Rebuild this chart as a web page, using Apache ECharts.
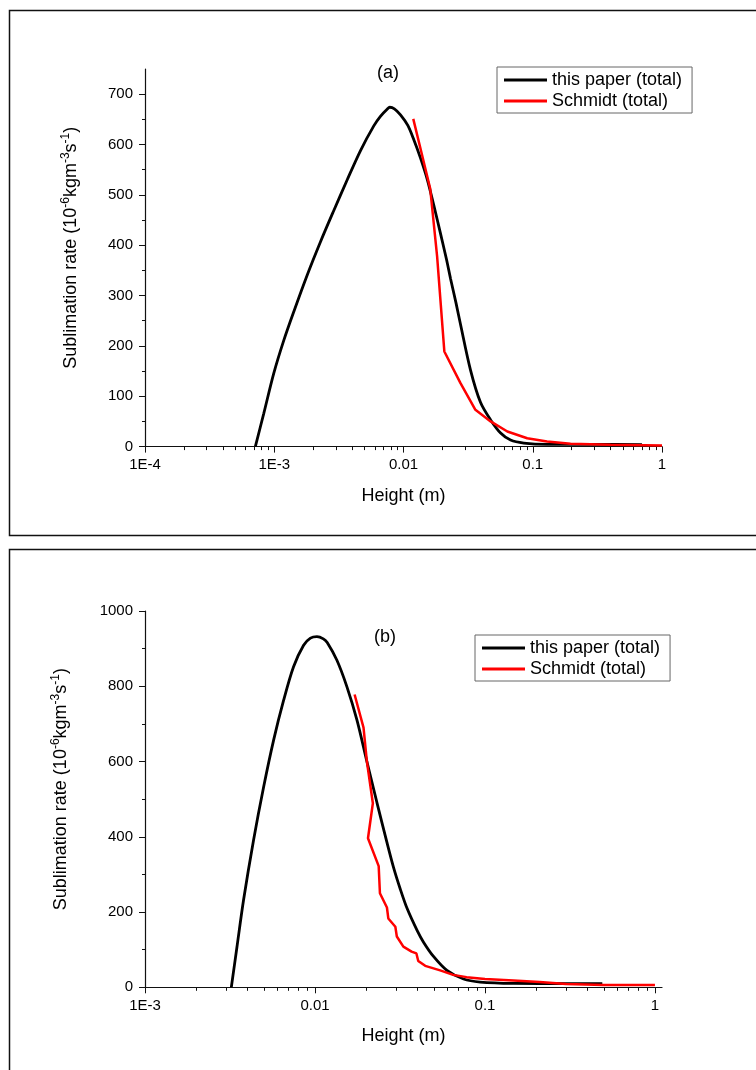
<!DOCTYPE html>
<html>
<head>
<meta charset="utf-8">
<script src="https://cdn.jsdelivr.net/npm/echarts@6.0.0/dist/echarts.min.js"></script>
<style>
html, body { margin: 0; padding: 0; background: #fff; }
#main { width: 756px; height: 1070px; }
</style>
</head>
<body>
<div id="main"></div>
<script>
// panel (a)
var heightBlackA = [0.000714, 0.00083, 0.00099, 0.001185, 0.001416, 0.0018, 0.00228, 0.00289, 0.00367, 0.00465, 0.00589, 0.00663, 0.00747, 0.00783, 0.0085, 0.00948, 0.0108, 0.012, 0.0135, 0.0153, 0.0172, 0.0193, 0.0215, 0.0231, 0.0255, 0.0276, 0.033, 0.0394, 0.0472, 0.0564, 0.0673, 0.0853, 0.129, 0.3, 0.7];
var rateBlackA = [0, 66, 145, 211, 268, 341, 407, 469, 530, 588, 637, 656, 670, 674, 671, 659, 638, 610, 574, 530, 478, 424, 372, 334, 285, 243, 152, 88, 53, 27, 13, 7, 4.5, 4.5, 4];
var heightRedA = [0.0119, 0.0161, 0.0182, 0.0207, 0.0276, 0.036, 0.0472, 0.0636, 0.0906, 0.129, 0.196, 0.4, 1];
var rateRedA = [651, 512, 378, 189, 126, 73, 50, 30, 16.5, 10, 5.5, 3.5, 2];

// panel (b)
var heightBlackB = [0.00322, 0.00347, 0.0038, 0.00435, 0.00499, 0.00571, 0.00654, 0.00748, 0.00857, 0.0094, 0.01027, 0.0112, 0.0118, 0.01346, 0.0154, 0.01766, 0.0202, 0.0232, 0.0265, 0.029, 0.0317, 0.0348, 0.04, 0.0435, 0.0498, 0.0597, 0.0748, 0.0937, 0.147, 0.3, 0.49];
var rateBlackB = [0, 105, 232, 391, 533, 657, 763, 852, 909, 928, 932, 926, 916, 869, 799, 710, 600, 489, 385, 318, 262, 210, 150, 120, 82, 45, 22, 14, 10.5, 10, 10];
var heightRedB = [0.0171, 0.0193, 0.0202, 0.0219, 0.0205, 0.0237, 0.0241, 0.0265, 0.027, 0.0297, 0.0303, 0.0331, 0.037, 0.0395, 0.0405, 0.0445, 0.0545, 0.065, 0.078, 0.1, 0.147, 0.21, 0.3, 0.5, 1];
var rateRedB = [778, 690, 600, 489, 396, 322, 250, 212, 183, 161, 135, 108, 95, 90, 70, 57, 45, 33, 27, 22, 18, 14, 9, 6, 6];

// ticks
var xTicksA = [0.0001, 0.001, 0.01, 0.1, 1];
var xLabelsA = ['1E-4', '1E-3', '0.01', '0.1', '1'];
var xTicksB = [0.001, 0.01, 0.1, 1];
var xLabelsB = ['1E-3', '0.01', '0.1', '1'];
var yTicksA = [0, 100, 200, 300, 400, 500, 600, 700];
var yTicksB = [0, 200, 400, 600, 800, 1000];

var seriesNames = ['this paper (total)', 'Schmidt (total)'];
var F = "'Liberation Sans', Arial, sans-serif";

function pairs(xs, ys) {
    return xs.map(function (x, i) { return [x, ys[i]]; });
}
// 2..9 in every decade
function minorTicks(lo, hi) {
    var out = [];
    for (var e = lo; e < hi; e++) {
        for (var k = 2; k <= 9; k++) out.push(k * Math.pow(10, e));
    }
    return out;
}
function labelFor(ticks, labels) {
    return function (v) {
        for (var i = 0; i < ticks.length; i++) {
            if (Math.abs(Math.log10(v / ticks[i])) < 0.01) return labels[i];
        }
        return '';
    };
}

var yName = '{t|Sublimation rate (10}{s|-6}{t|kgm}{s|-3}{t|s}{s|-1}{t|)}';
var yNameStyle = {
    padding: [0, 0, 0, 20],
    rich: {
        t: { fontSize: 18, fontFamily: F, color: '#000', lineHeight: 22 },
        s: { fontSize: 12, fontFamily: F, color: '#000', lineHeight: 14, verticalAlign: 'top' }
    }
};
var axisLineStyle = { color: '#111', width: 1.2 };

function mainX(grid, min, max, ticks, labels) {
    return {
        type: 'log', gridIndex: grid, min: min, max: max, position: 'bottom',
        axisLine: { onZero: false, lineStyle: axisLineStyle },
        axisTick: { customValues: ticks, length: 6, lineStyle: { color: '#111' } },
        axisLabel: { customValues: ticks, formatter: labelFor(ticks, labels), color: '#000', fontSize: 15, fontFamily: F, margin: 11 },
        splitLine: { show: false },
        name: 'Height (m)', nameLocation: 'middle', nameGap: 40,
        nameTextStyle: { fontSize: 18, fontFamily: F, color: '#000' }
    };
}
function minorX(grid, min, max, lo, hi) {
    return {
        type: 'log', gridIndex: grid, min: min, max: max, position: 'bottom',
        axisLine: { show: false, onZero: false },
        axisTick: { customValues: minorTicks(lo, hi), length: 3.5, lineStyle: { color: '#111' } },
        axisLabel: { show: false },
        splitLine: { show: false }
    };
}
function mainY(grid, max, interval, ticks, gap) {
    return {
        type: 'value', gridIndex: grid, min: 0, max: max, interval: interval,
        axisLine: { show: true, onZero: false, lineStyle: axisLineStyle },
        axisTick: { customValues: ticks, length: 6, lineStyle: { color: '#111' } },
        minorTick: { show: true, splitNumber: 2, length: 3, lineStyle: { color: '#111' } },
        axisLabel: {
            customValues: ticks, color: '#000', fontSize: 15, fontFamily: F, margin: 12,
            formatter: function (v) { return String(v); }
        },
        splitLine: { show: false },
        name: yName, nameLocation: 'middle', nameRotate: 90, nameGap: gap,
        nameTextStyle: yNameStyle
    };
}
function legendAt(left, top) {
    return {
        left: left, top: top, orient: 'vertical', data: seriesNames,
        icon: 'rect', itemWidth: 43, itemHeight: 3, itemGap: 1,
        padding: [3, 10, 2, 7], borderColor: '#666', borderWidth: 1,
        textStyle: { fontSize: 18, fontFamily: F, color: '#000', lineHeight: 20 }
    };
}
function line(name, color, width, x, y, xi, yi, smooth, z) {
    return {
        name: name, type: 'line', xAxisIndex: xi, yAxisIndex: yi,
        data: pairs(x, y), showSymbol: false, smooth: smooth, z: z,
        lineStyle: { color: color, width: width }, itemStyle: { color: color }
    };
}

var chart = echarts.init(document.getElementById('main'));
chart.setOption({
    animation: false,
    backgroundColor: '#fff',
    graphic: [
        { type: 'rect', silent: true, shape: { x: 9.5, y: 10.5, width: 800, height: 525 }, style: { fill: 'none', stroke: '#111', lineWidth: 1.5 } },
        { type: 'rect', silent: true, shape: { x: 9.5, y: 549.5, width: 800, height: 600 }, style: { fill: 'none', stroke: '#111', lineWidth: 1.5 } }
    ],
    title: [
        { text: '(a)', left: 377, top: 64, padding: 0, textStyle: { fontSize: 18, fontWeight: 'normal', fontFamily: F, color: '#000' } },
        { text: '(b)', left: 374, top: 628, padding: 0, textStyle: { fontSize: 18, fontWeight: 'normal', fontFamily: F, color: '#000' } }
    ],
    legend: [legendAt(497, 67), legendAt(475, 635)],
    grid: [
        { left: 145, top: 69, width: 517, height: 377.6 },
        { left: 145, top: 611, width: 517, height: 376.3 }
    ],
    xAxis: [
        mainX(0, 0.0001, 1, xTicksA, xLabelsA),
        minorX(0, 0.0001, 1, -4, 0),
        mainX(1, 0.001, 1.1, xTicksB, xLabelsB),
        minorX(1, 0.001, 1.1, -3, 0)
    ],
    yAxis: [
        mainY(0, 750, 100, yTicksA, 63),
        mainY(1, 1000, 200, yTicksB, 73)
    ],
    series: [
        line(seriesNames[0], '#000', 2.8, heightBlackA, rateBlackA, 0, 0, 0.3, 2),
        line(seriesNames[1], '#f00', 2.5, heightRedA, rateRedA, 0, 0, false, 3),
        line(seriesNames[0], '#000', 2.8, heightBlackB, rateBlackB, 2, 1, 0.3, 2),
        line(seriesNames[1], '#f00', 2.5, heightRedB, rateRedB, 2, 1, false, 3)
    ]
});
</script>
</body>
</html>
